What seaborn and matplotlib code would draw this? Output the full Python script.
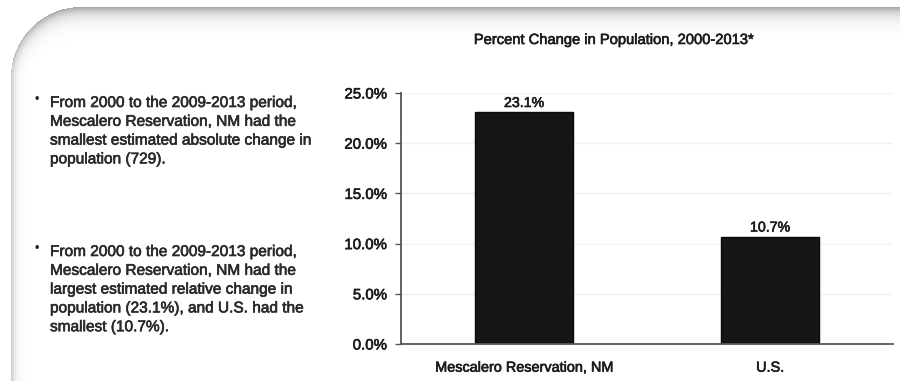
import numpy as np
import matplotlib
matplotlib.use("Agg")
import matplotlib.pyplot as plt
import matplotlib.patheffects as pe
import seaborn as sns

# ---- data -------------------------------------------------------------
categories = ["Mescalero Reservation, NM", "U.S."]
pct_change = [23.1, 10.7]
y_ticks = [0, 5, 10, 15, 20, 25]
chart_title = "Percent Change in Population, 2000-2013*"
note_absolute = [
    "From 2000 to the 2009-2013 period,",
    "Mescalero Reservation, NM had the",
    "smallest estimated absolute change in",
    "population (729).",
]
note_relative = [
    "From 2000 to the 2009-2013 period,",
    "Mescalero Reservation, NM had the",
    "largest estimated relative change in",
    "population (23.1%), and U.S. had the",
    "smallest (10.7%).",
]

# ---- figure -----------------------------------------------------------
W, H, DPI = 900, 381, 100
sns.set_theme(style="white")
plt.rcParams["font.family"] = ["Liberation Sans", "DejaVu Sans"]
TEXT = "#1c1c1c"
AXIS = "#555555"
# slightly heavier strokes for all lettering
HEAVY = [pe.withStroke(linewidth=0.45, foreground=TEXT)]

fig = plt.figure(figsize=(W / DPI, H / DPI), dpi=DPI, facecolor="white")

# panel frame: rounded top-left edge with a soft inner shadow
yy, xx = np.mgrid[0:H, 0:W] + 0.5
left, top, r = 11.0, 7.0, 70.0
cx, cy = left + r, top + r
rad = np.hypot(xx - cx, yy - cy)
in_corner = (xx < cx) & (yy < cy)
dist = np.where(in_corner, r - rad, np.minimum(xx - left, yy - top))
w_top = np.where(in_corner,
                 np.clip((cy - yy) / np.maximum(rad, 1e-6), 0, 1),
                 ((yy - top) < (xx - left)).astype(float))
amp = 0.22 + (0.36 - 0.22) * w_top
length = 4.0 + (7.5 - 4.0) * w_top
shade = np.where(dist >= 0, amp * np.exp(-np.clip(dist, 0, None) / length), 0.0)
frame = 1.0 - shade
fig.figimage(frame, xo=0, yo=0, cmap="gray", vmin=0, vmax=1,
             origin="upper", zorder=-10)

# ---- bar chart --------------------------------------------------------
ax = fig.add_axes([401 / W, 1 - 344 / H, (893 - 401) / W, (344 - 93) / H])
ax.set_facecolor("none")
ax.set_zorder(1)

sns.barplot(x=categories, y=pct_change, color="#161616", saturation=1,
            width=0.4, edgecolor="#0a0a0a", linewidth=1, ax=ax)

ax.set_xlim(-0.5, 1.5)
ax.set_ylim(0, 25)
ax.set_yticks(y_ticks)
ax.set_yticklabels([f"{v:.1f}%" for v in y_ticks])
ax.set_xticks(range(len(categories)))
ax.set_xticklabels(categories)
ax.set_xticks([-0.5, 0.5, 1.5], minor=True)
ax.set_xlabel("")
ax.set_ylabel("")

ax.tick_params(axis="x", which="major", length=0, pad=12,
               labelsize=10.4, labelcolor=TEXT)
ax.tick_params(axis="x", which="minor", length=3, width=1,
               color=AXIS, direction="out")
ax.tick_params(axis="y", length=4, width=1, color=AXIS, direction="out",
               pad=6, labelsize=10.8, labelcolor=TEXT, left=True)
for lbl in ax.get_xticklabels() + ax.get_yticklabels():
    lbl.set_path_effects(HEAVY)

ax.yaxis.grid(True, color="#f2f2f2", lw=1)
ax.set_axisbelow(True)

for side in ("top", "right"):
    ax.spines[side].set_visible(False)
for side in ("left", "bottom"):
    ax.spines[side].set_color(AXIS)
    ax.spines[side].set_linewidth(1.3)

for patch, val in zip(ax.patches, pct_change):
    ax.annotate(f"{val:.1f}%",
                (patch.get_x() + patch.get_width() / 2, val),
                xytext=(0, 1.5), textcoords="offset points",
                ha="center", va="bottom", fontsize=10.2, color=TEXT,
                path_effects=HEAVY)

# ---- title and notes --------------------------------------------------
fig.text(615 / W, 1 - 40 / H, chart_title, ha="center", va="center",
         fontsize=10.6, color=TEXT, path_effects=HEAVY)


def draw_note(lines, y0, step=18.8):
    fig.text(37 / W, 1 - (y0 - 3) / H, "\u2022", ha="center", va="center",
             fontsize=9, color=TEXT)
    for i, line in enumerate(lines):
        fig.text(50 / W, 1 - (y0 + i * step) / H, line, ha="left",
                 va="center", fontsize=11.1, color="#2a2a2a",
                 path_effects=[pe.withStroke(linewidth=0.45,
                                             foreground="#2a2a2a")])


draw_note(note_absolute, 103)
draw_note(note_relative, 252)

fig.savefig("out.png", dpi=DPI, facecolor="white")
